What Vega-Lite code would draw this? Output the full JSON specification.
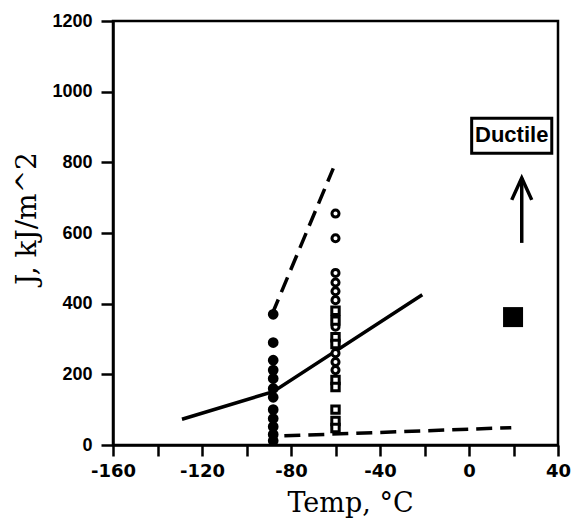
{
  "$schema": "https://vega.github.io/schema/vega-lite/v6.json",
  "width": 445,
  "height": 424,
  "autosize": "none",
  "padding": {"left": 113, "top": 21, "right": 19, "bottom": 83},
  "background": "white",
  "config": {
    "view": {"stroke": "black", "strokeWidth": 2.5},
    "axis": {
      "grid": false,
      "domainColor": "black",
      "domainWidth": 2.5,
      "tickColor": "black",
      "tickWidth": 2.5,
      "labelColor": "black",
      "labelFont": "Liberation Sans",
      "labelFontWeight": "bold",
      "labelFontSize": 18,
      "titleColor": "black",
      "titleFont": "DejaVu Serif",
      "titleFontWeight": "normal",
      "labelOverlap": false,
      "labelFlush": false,
      "labelBound": false
    }
  },
  "datasets": {
    "pts": [
      {"type": "filled", "temp": -88, "J": 370},
      {"type": "filled", "temp": -88, "J": 290},
      {"type": "filled", "temp": -88, "J": 240},
      {"type": "filled", "temp": -88, "J": 212},
      {"type": "filled", "temp": -88, "J": 188},
      {"type": "filled", "temp": -88, "J": 160},
      {"type": "filled", "temp": -88, "J": 135},
      {"type": "filled", "temp": -88, "J": 100},
      {"type": "filled", "temp": -88, "J": 75},
      {"type": "filled", "temp": -88, "J": 52},
      {"type": "filled", "temp": -88, "J": 30},
      {"type": "filled", "temp": -88, "J": 12},
      {"type": "open", "temp": -60, "J": 655},
      {"type": "open", "temp": -60, "J": 585},
      {"type": "open", "temp": -60, "J": 487},
      {"type": "open", "temp": -60, "J": 460},
      {"type": "open", "temp": -60, "J": 435},
      {"type": "open", "temp": -60, "J": 410},
      {"type": "open", "temp": -60, "J": 335},
      {"type": "open", "temp": -60, "J": 260},
      {"type": "open", "temp": -60, "J": 235},
      {"type": "open", "temp": -60, "J": 212},
      {"type": "square", "temp": -60, "J": 380},
      {"type": "square", "temp": -60, "J": 352},
      {"type": "square", "temp": -60, "J": 305},
      {"type": "square", "temp": -60, "J": 286},
      {"type": "square", "temp": -60, "J": 184},
      {"type": "square", "temp": -60, "J": 164},
      {"type": "square", "temp": -60, "J": 100},
      {"type": "square", "temp": -60, "J": 68},
      {"type": "square", "temp": -60, "J": 48}
    ],
    "lines": [
      {"line": "solid", "temp": -129, "J": 73},
      {"line": "solid", "temp": -88, "J": 151},
      {"line": "solid", "temp": -21, "J": 425},
      {"line": "upper", "temp": -88.5, "J": 370},
      {"line": "upper", "temp": -61, "J": 783},
      {"line": "lower", "temp": -83, "J": 26},
      {"line": "lower", "temp": 19, "J": 49}
    ],
    "ann": [
      {"label": "Ductile", "temp": 19.2, "J": 876, "x1": 1.2, "x2": 37.2, "y1": 826, "y2": 925, "atemp": 23.7, "abot": 572, "atip": 756, "stemp": 19.8, "sJ": 362}
    ]
  },
  "layer": [
    {
      "data": {"name": "lines"},
      "transform": [{"filter": "datum.line == 'solid'"}],
      "mark": {"type": "line", "color": "black", "strokeWidth": 3.5},
      "encoding": {
        "x": {
          "field": "temp", "type": "quantitative",
          "scale": {"domain": [-160, 40], "nice": false, "zero": false},
          "axis": {
            "title": "Temp, °C",
            "titleFontSize": 27,
            "titlePadding": 10,
            "titleX": 237,
            "labelFont": "DejaVu Sans",
            "values": [-160, -140, -120, -100, -80, -60, -40, -20, 0, 20, 40],
            "labelExpr": "datum.value % 40 == 0 ? (datum.value < 0 ? '-' + abs(datum.value) : '' + datum.value) : ''",
            "tickSize": 11,
            "labelPadding": 6
          }
        },
        "y": {
          "field": "J", "type": "quantitative",
          "scale": {"domain": [0, 1200], "nice": false},
          "axis": {
            "title": "J, kJ/m^2",
            "titleFontSize": 28,
            "titlePadding": 10,
            "titleY": 197,
            "values": [0, 100, 200, 300, 400, 500, 600, 700, 800, 900, 1000, 1100, 1200],
            "labelExpr": "datum.value % 200 == 0 ? '' + datum.value : ''",
            "tickSize": 12,
            "labelPadding": 9
          }
        }
      }
    },
    {
      "data": {"name": "lines"},
      "transform": [{"filter": "datum.line != 'solid'"}],
      "mark": {"type": "line", "color": "black", "strokeWidth": 3.5, "strokeDash": [16, 8]},
      "encoding": {
        "x": {"field": "temp", "type": "quantitative"},
        "y": {"field": "J", "type": "quantitative"},
        "detail": {"field": "line"}
      }
    },
    {
      "data": {"name": "pts"},
      "transform": [{"filter": "datum.type == 'filled'"}],
      "mark": {"type": "point", "shape": "circle", "filled": true, "color": "black", "size": 115, "opacity": 1},
      "encoding": {
        "x": {"field": "temp", "type": "quantitative"},
        "y": {"field": "J", "type": "quantitative"}
      }
    },
    {
      "data": {"name": "pts"},
      "transform": [{"filter": "datum.type == 'open'"}],
      "mark": {"type": "point", "shape": "circle", "filled": true, "fill": "white", "stroke": "black", "strokeWidth": 3, "size": 50, "opacity": 1},
      "encoding": {
        "x": {"field": "temp", "type": "quantitative"},
        "y": {"field": "J", "type": "quantitative"}
      }
    },
    {
      "data": {"name": "pts"},
      "transform": [{"filter": "datum.type == 'square'"}],
      "mark": {"type": "point", "shape": "square", "filled": true, "fill": "white", "stroke": "black", "strokeWidth": 3, "size": 55, "opacity": 1},
      "encoding": {
        "x": {"field": "temp", "type": "quantitative"},
        "y": {"field": "J", "type": "quantitative"}
      }
    },
    {
      "data": {"name": "ann"},
      "mark": {"type": "point", "shape": "square", "filled": true, "color": "black", "size": 400, "opacity": 1},
      "encoding": {
        "x": {"field": "stemp", "type": "quantitative"},
        "y": {"field": "sJ", "type": "quantitative"}
      }
    },
    {
      "data": {"name": "ann"},
      "mark": {"type": "rule", "color": "black", "strokeWidth": 3.5},
      "encoding": {
        "x": {"field": "atemp", "type": "quantitative"},
        "y": {"field": "abot", "type": "quantitative"},
        "y2": {"field": "atip"}
      }
    },
    {
      "data": {"name": "ann"},
      "mark": {"type": "point", "shape": "M-1,2.2L0,0L1,2.2", "filled": false, "stroke": "black", "strokeWidth": 3.5, "size": 400, "opacity": 1, "strokeJoin": "miter"},
      "encoding": {
        "x": {"field": "atemp", "type": "quantitative"},
        "y": {"field": "atip", "type": "quantitative"}
      }
    },
    {
      "data": {"name": "ann"},
      "mark": {"type": "rect", "fill": "white", "stroke": "black", "strokeWidth": 3},
      "encoding": {
        "x": {"field": "x1", "type": "quantitative"},
        "x2": {"field": "x2"},
        "y": {"field": "y1", "type": "quantitative"},
        "y2": {"field": "y2"}
      }
    },
    {
      "data": {"name": "ann"},
      "mark": {"type": "text", "font": "Liberation Sans", "fontWeight": "bold", "fontSize": 22, "color": "black", "align": "center", "baseline": "middle"},
      "encoding": {
        "x": {"field": "temp", "type": "quantitative"},
        "y": {"field": "J", "type": "quantitative"},
        "text": {"field": "label"}
      }
    }
  ]
}
